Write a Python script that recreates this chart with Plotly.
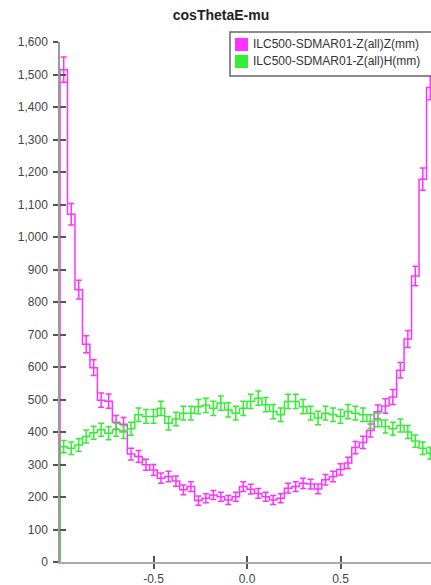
import plotly.graph_objects as go

# ---------------- data ----------------
BIN_LO, BIN_HI, N_BINS = -1.0, 1.0, 50

z_counts = [1515, 1070, 838, 670, 598, 498, 495, 430, 424, 332,
            325, 299, 283, 258, 263, 249, 222, 232, 189, 196,
            206, 201, 191, 201, 232, 224, 211, 201, 191, 196,
            227, 232, 242, 240, 225, 253, 263, 285, 305, 352,
            368, 405, 462, 480, 508, 590, 686, 880, 1178, 1460]
z_errors = [39, 33, 29, 26, 24, 22, 22, 21, 21, 18,
            18, 17, 17, 16, 16, 16, 15, 15, 14, 14,
            14, 14, 14, 14, 15, 15, 15, 14, 14, 14,
            15, 15, 16, 15, 15, 16, 16, 17, 17, 19,
            19, 20, 21, 22, 23, 24, 26, 30, 34, 38]

h_counts = [355, 350, 360, 386, 398, 407, 396, 407, 400, 410,
            453, 448, 448, 473, 427, 440, 458, 458, 478, 482,
            473, 489, 468, 458, 473, 494, 504, 484, 463, 453,
            494, 494, 478, 458, 443, 458, 453, 448, 463, 458,
            453, 432, 437, 417, 410, 420, 400, 372, 350, 335]
h_errors = [19, 19, 19, 20, 20, 20, 20, 20, 20, 20,
            21, 21, 21, 22, 21, 21, 21, 21, 22, 22,
            22, 22, 22, 21, 22, 22, 22, 22, 22, 21,
            22, 22, 22, 21, 21, 21, 21, 21, 22, 21,
            21, 21, 21, 20, 20, 20, 20, 19, 19, 18]

series_names = ["ILC500-SDMAR01-Z(all)Z(mm)", "ILC500-SDMAR01-Z(all)H(mm)"]
series_colors = ["#ff33ff", "#33ee33"]
title_text = "cosThetaE-mu"
y_tick_vals = list(range(0, 1700, 100))
x_tick_vals = [-0.5, 0.0, 0.5]
x_tick_text = ["-0.5", "0.0", "0.5"]

# ---------------- geometry ----------------
W, H = 431, 585
ML, MR, MT, MB = 60, 0, 42, 23
PW, PH = W - ML - MR, H - MT - MB
X_RANGE = [BIN_LO, BIN_LO + PW / 187.0]
Y_RANGE = [0, 1600]

width = (BIN_HI - BIN_LO) / N_BINS
edges = [BIN_LO + i * width for i in range(N_BINS + 1)]
centers = [BIN_LO + (i + 0.5) * width for i in range(N_BINS)]

fig = go.Figure()

for counts, errs, name, col in [(z_counts, z_errors, series_names[0], series_colors[0]),
                                (h_counts, h_errors, series_names[1], series_colors[1])]:
    xs = [edges[0]] + edges[:-1] + [edges[-1]]
    ys = [0] + counts + [counts[-1]]
    fig.add_trace(go.Scatter(x=xs, y=ys, mode="lines", line=dict(color=col, width=1.5, shape="hv"),
                             showlegend=False, hoverinfo="skip", cliponaxis=False))
    fig.add_trace(go.Scatter(x=centers, y=counts, mode="markers",
                             marker=dict(size=1, color=col, opacity=0),
                             error_y=dict(type="data", array=errs, color=col, thickness=1.5, width=3),
                             showlegend=False, name=name, cliponaxis=False))

font_family = "Liberation Sans, Arial, sans-serif"

fig.update_layout(
    width=W, height=H,
    margin=dict(l=ML, r=MR, t=MT, b=MB, pad=0),
    paper_bgcolor="white", plot_bgcolor="white",
    showlegend=False,
    font=dict(family=font_family, size=12, color="#444"),
    title=dict(text="<b>" + title_text + "</b>", x=221 / W, xref="container", xanchor="center",
               y=1 - 15 / H, yref="container", yanchor="middle",
               font=dict(size=14, color="#222", family=font_family)),
    xaxis=dict(range=X_RANGE, showgrid=False, zeroline=False, showline=True, linecolor="#aaaaaa",
               linewidth=1.5, ticks="outside", ticklen=5, tickwidth=2, tickcolor="#555",
               tickvals=x_tick_vals, ticktext=x_tick_text, tickfont=dict(size=12, color="#444")),
    yaxis=dict(range=Y_RANGE, showgrid=False, zeroline=False, showline=True, linecolor="#999999",
               linewidth=1.5, ticks="outside", ticklen=5, tickwidth=2, tickcolor="#555",
               tickvals=y_tick_vals, tickformat=",d", ticklabelstandoff=3,
               tickfont=dict(size=12, color="#444")),
    xaxis2=dict(range=X_RANGE, overlaying="x", showgrid=False, zeroline=False, showline=False,
                ticks="inside", ticklen=6, tickwidth=2, tickcolor="#555", tickvals=x_tick_vals,
                showticklabels=False, side="bottom"),
    yaxis2=dict(range=Y_RANGE, overlaying="y", showgrid=False, zeroline=False, showline=False,
                ticks="inside", ticklen=6, tickwidth=2, tickcolor="#555", tickvals=y_tick_vals,
                showticklabels=False, side="left"),
)
# dummy trace so overlay axes are drawn
fig.add_trace(go.Scatter(x=[None], y=[None], xaxis="x2", yaxis="y2", showlegend=False, hoverinfo="skip"))


def px_x(p):
    return (p - ML) / PW


def px_y(p):
    return (H - MB - p) / PH


# legend (box, swatches, labels)
fig.add_shape(type="rect", xref="paper", yref="paper", x0=px_x(230), x1=px_x(450),
              y0=px_y(76), y1=px_y(32), line=dict(color="#666", width=1.5), fillcolor="white", layer="above")
rows = [44.5, 61.5]
for i, (name, col) in enumerate(zip(series_names, series_colors)):
    cy = rows[i]
    fig.add_shape(type="rect", xref="paper", yref="paper", x0=px_x(235), x1=px_x(248),
                  y0=px_y(cy + 6.5), y1=px_y(cy - 6.5), line=dict(width=0), fillcolor=col, layer="above")
    fig.add_annotation(text=name, xref="paper", yref="paper", x=px_x(251), y=px_y(cy),
                       xanchor="left", yanchor="middle", showarrow=False,
                       font=dict(size=12, color="#333", family=font_family))

fig.write_html("out.html", config={"displayModeBar": False},
               post_script="document.body.style.margin='0';document.body.style.overflow='hidden';")
